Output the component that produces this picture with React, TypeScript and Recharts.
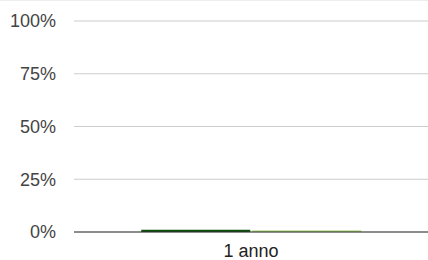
import { BarChart, Bar, XAxis, YAxis, CartesianGrid } from 'recharts';

const categories = ['1 anno'];
const seriesA = [0.011];
const seriesB = [0.007];
const yTicks = [0, 0.25, 0.5, 0.75, 1];

const data = categories.map((name, i) => ({ name, a: seriesA[i], b: seriesB[i] }));

export default function App() {
  return (
    <div
      style={{
        position: 'absolute',
        left: 0,
        top: 0,
        width: 428,
        height: 260,
        background: '#fff',
        borderTop: '1px solid #eeeeee',
        boxSizing: 'border-box',
        fontFamily: 'Arial, "Liberation Sans", sans-serif',
      }}
    >
      <BarChart
        width={428}
        height={259}
        data={data}
        margin={{ top: 20, right: 0, bottom: 0, left: 0 }}
        barCategoryGap="19%"
        barGap={2}
      >
        <CartesianGrid horizontal vertical={false} stroke="#cccccc" />
        <XAxis
          dataKey="name"
          height={28}
          axisLine={{ stroke: '#333333' }}
          tickLine={false}
          tick={{ fill: '#222222', fontSize: 18 }}
          tickMargin={6}
        />
        <YAxis
          width={74}
          domain={[0, 1]}
          ticks={yTicks}
          axisLine={false}
          tickLine={false}
          tickSize={0}
          tickMargin={18}
          tick={{ fill: '#444444', fontSize: 18 }}
          tickFormatter={(v: number) => `${Math.round(v * 100)}%`}
        />
        <Bar dataKey="a" fill="#0b4f0b" isAnimationActive={false} />
        <Bar dataKey="b" fill="#9ccc65" isAnimationActive={false} />
      </BarChart>
    </div>
  );
}
